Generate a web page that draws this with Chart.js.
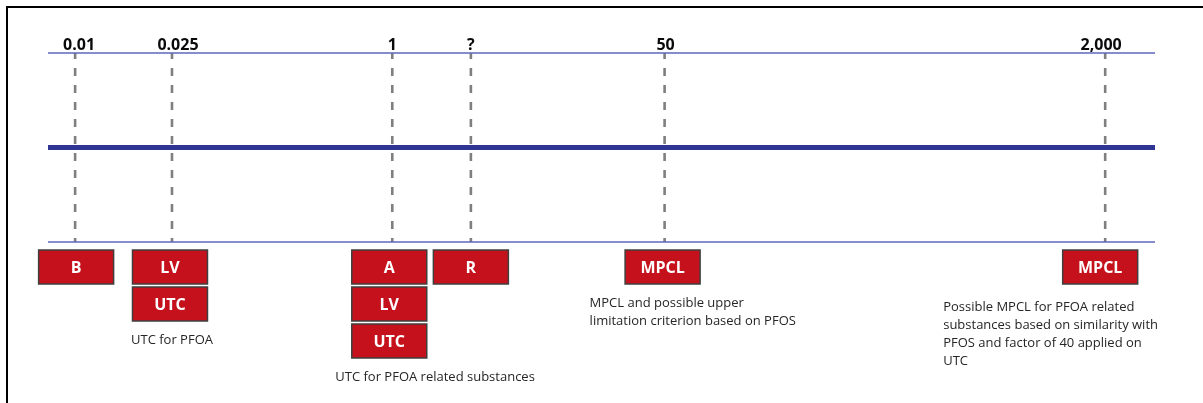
<!DOCTYPE html>
<html>
<head>
<meta charset="utf-8">
<script src="https://cdn.jsdelivr.net/npm/chart.js@4/dist/chart.umd.min.js"></script>
<style>
  html, body { margin: 0; padding: 0; background: #fff; }
  #wrap { position: relative; width: 1203px; height: 403px; overflow: hidden; }
  #frame { position: absolute; left: 6px; top: 6px; right: -10px; bottom: -10px; border: 2.5px solid #000; }
  #chart { position: absolute; left: 0; top: 0; }
</style>
</head>
<body>
<div id="wrap">
  <div id="frame"></div>
  <canvas id="chart" width="1203" height="403"></canvas>
</div>
<script>
// threshold values shown along the (schematic, not to scale) axis
const tickLabels = ['0.01', '0.025', '1', '?', '50', '2,000'];
// where each value sits along the schematic axis (0 - 100)
const tickPos = [2.45, 11.2, 31.1, 38.2, 55.7, 95.5];
// red boxes stacked under each value
const boxLabels = [['B'], ['LV', 'UTC'], ['A', 'LV', 'UTC'], ['R'], ['MPCL'], ['MPCL']];
// notes under the boxes
const notes = [
  [],
  ['UTC for PFOA'],
  ['UTC for PFOA related substances'],
  [],
  ['MPCL and possible upper', 'limitation criterion based on PFOS'],
  ['Possible MPCL for PFOA related', 'substances based on similarity with', 'PFOS and factor of 40 applied on', 'UTC']
];

// small hand offsets (px) as in the original drawing
const labelDx = [4, 6, 0, 0, 1, -4];
const boxDx = [1, -2, -3, 0, -2, -5];
const noteLayout = [
  null,
  { dx: 0, align: 'center', dy: 19 },
  { dx: -57, align: 'left', dy: 19 },
  null,
  { dx: -75, align: 'left', dy: 19 },
  { dx: -162, align: 'left', dy: 23 }
];

const AXIS_TOP = 10, AXIS_MID = 5, AXIS_BOTTOM = 0;

const datasets = [];

// horizontal lines (drawn on top)
datasets.push({
  data: [{ x: 0, y: AXIS_MID }, { x: 100, y: AXIS_MID }],
  borderColor: '#2e3592', borderWidth: 5, order: 0
});
datasets.push({
  data: [{ x: 0, y: AXIS_TOP }, { x: 100, y: AXIS_TOP }],
  borderColor: '#5b68bb', borderWidth: 1.3, order: 0
});
datasets.push({
  data: [{ x: 0, y: AXIS_BOTTOM }, { x: 100, y: AXIS_BOTTOM }],
  borderColor: '#5b68bb', borderWidth: 1.3, order: 0
});

// dashed markers
tickPos.forEach(p => {
  datasets.push({
    data: [{ x: p, y: AXIS_TOP }, { x: p, y: AXIS_BOTTOM }],
    borderColor: '#7f7f7f', borderWidth: 2.6,
    borderDash: [8, 9], borderDashOffset: 2, order: 1
  });
});

const labelsPlugin = {
  id: 'labels',
  afterDatasetsDraw(chart) {
    const ctx = chart.ctx;
    const xs = chart.scales.x, ys = chart.scales.y;
    const topY = ys.getPixelForValue(AXIS_TOP);
    const botY = ys.getPixelForValue(AXIS_BOTTOM);
    ctx.save();

    tickLabels.forEach((t, i) => {
      const x = xs.getPixelForValue(tickPos[i]);
      ctx.font = 'bold 16px "Open Sans", sans-serif';
      ctx.fillStyle = '#0a0a0a';
      ctx.textAlign = 'center';
      ctx.textBaseline = 'alphabetic';
      ctx.fillText(t, x + labelDx[i], topY - 3);

      // boxes
      const bw = 75, bh = 34, pitch = 37;
      let bottom = botY;
      boxLabels[i].forEach((b, r) => {
        const bx = x + boxDx[i] - bw / 2;
        const by = botY + 8 + r * pitch;
        ctx.fillStyle = '#c5111c';
        ctx.fillRect(bx, by, bw, bh);
        ctx.strokeStyle = '#3f3f3f';
        ctx.lineWidth = 1.5;
        ctx.strokeRect(bx, by, bw, bh);
        ctx.fillStyle = '#fff';
        ctx.font = 'bold 16px "Open Sans", sans-serif';
        ctx.textAlign = 'center';
        ctx.textBaseline = 'middle';
        ctx.fillText(b, bx + bw / 2, by + bh / 2 + 1);
        bottom = by + bh;
      });

      const lay = noteLayout[i];
      if (lay) {
        ctx.fillStyle = '#262626';
        ctx.font = '13px "Open Sans", sans-serif';
        ctx.textAlign = lay.align;
        ctx.textBaseline = 'middle';
        notes[i].forEach((line, k) => {
          ctx.fillText(line, x + lay.dx, bottom + lay.dy + k * 18);
        });
      }
    });
    ctx.restore();
  }
};

new Chart(document.getElementById('chart'), {
  type: 'scatter',
  data: { datasets },
  options: {
    responsive: false,
    animation: false,
    layout: { padding: { left: 48, right: 48, top: 53, bottom: 161 } },
    datasets: { scatter: { showLine: true, pointRadius: 0, clip: false, fill: false } },
    scales: {
      x: { type: 'linear', min: 0, max: 100, display: false },
      y: { type: 'linear', min: 0, max: 10, display: false }
    },
    plugins: { legend: { display: false }, tooltip: { enabled: false } }
  },
  plugins: [labelsPlugin]
});
</script>
</body>
</html>
